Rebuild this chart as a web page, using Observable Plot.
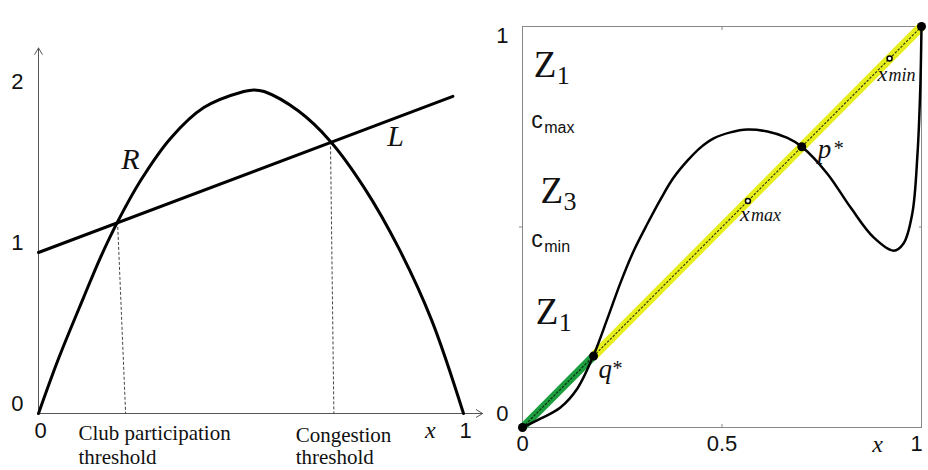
<!DOCTYPE html>
<html>
<head>
<meta charset="utf-8">
<script src="https://cdn.jsdelivr.net/npm/d3@7"></script>
<script src="https://cdn.jsdelivr.net/npm/@observablehq/plot@0.6"></script>
<style>
  body { margin: 0; background: #fff; }
  #wrap { display: flex; width: 928px; height: 470px; overflow: hidden; }
  #wrap svg { display: block; background: #fff; }
</style>
</head>
<body>
<div id="wrap"></div>
<script>
// ---- Left panel: benefit curve R(x) and cost line L(x) ----
const revX = [0, 0.047, 0.106, 0.146, 0.186, 0.241, 0.311, 0.389, 0.483, 0.507, 0.531, 0.611, 0.687, 0.767, 0.847, 0.925, 1];
const revY = [0, 0.34, 0.72, 0.97, 1.19, 1.45, 1.71, 1.90, 2.00, 2.01, 2.00, 1.88, 1.69, 1.40, 1.03, 0.58, 0];
const costX = [0, 0.975];
const costY = [1.0, 1.97];
// crossings of R and L, and where their drop lines meet the x axis
const crossX = [0.186, 0.687];
const crossY = [1.19, 1.69];
const dropX = [0.205, 0.695];
const leftTicksY = [0, 1, 2];
const leftTicksX = [0, 1];
const clubLabel = "Club participation\nthreshold";
const congestionLabel = "Congestion\nthreshold";

// ---- Right panel: map f(x) against the diagonal ----
const mapX = [0, 0.045, 0.095, 0.138, 0.178, 0.213, 0.246, 0.278, 0.313, 0.346, 0.378, 0.414, 0.446, 0.479, 0.521, 0.564, 0.614, 0.664, 0.70, 0.764, 0.822, 0.880, 0.930, 0.955, 0.977, 0.990, 0.997, 1];
const mapY = [0, 0.022, 0.050, 0.098, 0.180, 0.272, 0.362, 0.439, 0.508, 0.569, 0.622, 0.666, 0.698, 0.721, 0.736, 0.743, 0.738, 0.722, 0.70, 0.633, 0.549, 0.474, 0.441, 0.459, 0.534, 0.683, 0.848, 1];
const qStar = 0.178;
const pStar = 0.70;
const fixedPoints = [0, qStar, pStar, 1];
const xMax = 0.565;
const xMin = 0.92;
const cMax = 0.746;
const cMin = 0.449;
const zoneNames = ["Z", "Z", "Z"];
const zoneSubs = ["1", "3", "1"];
const zoneX = [0.028, 0.045, 0.033];
const zoneY = [0.873, 0.561, 0.259];
const rightTicksX = [0, 0.5, 1];

const SANS = '"Liberation Sans", Arial, sans-serif';
const SERIF = '"Liberation Serif", "Times New Roman", serif';
const INK = "#111";

const rev = revX.map((x, i) => ({x, y: revY[i]}));
const cost = costX.map((x, i) => ({x, y: costY[i]}));
const drops = crossX.map((x, i) => ({x1: x, y1: crossY[i], x2: dropX[i], y2: 0}));
const axesArrows = [
  {x1: 0, y1: 0, x2: 0, y2: 2.27},
  {x1: 0, y1: 0, x2: 1.045, y2: 0}
];

const left = Plot.plot({
  width: 490,
  height: 470,
  marginLeft: 38,
  marginRight: 27,
  marginTop: 91,
  marginBottom: 57,
  x: {domain: [0, 1], axis: null},
  y: {domain: [0, 2], axis: null},
  style: {fontFamily: SANS, color: INK, background: "#fff"},
  marks: [
    Plot.arrow(axesArrows, {x1: "x1", y1: "y1", x2: "x2", y2: "y2", stroke: "#555", strokeWidth: 1, headLength: 11, headAngle: 62}),
    Plot.link(drops, {x1: "x1", y1: "y1", x2: "x2", y2: "y2", stroke: "#444", strokeWidth: 1, strokeDasharray: "3,2"}),
    Plot.line(cost, {x: "x", y: "y", stroke: "#000", strokeWidth: 3}),
    Plot.line(rev, {x: "x", y: "y", curve: "catmull-rom", stroke: "#000", strokeWidth: 3}),
    // axis numbers
    Plot.text(leftTicksY, {x: 0, y: d => d, text: d => String(d), textAnchor: "end", lineAnchor: "bottom", dx: -15, dy: -3, fontSize: 22, fill: INK}),
    Plot.text(leftTicksX, {x: d => d, y: 0, text: d => String(d), textAnchor: "middle", lineAnchor: "bottom", dx: 2, dy: 24, fontSize: 22, fill: INK}),
    Plot.text(["x"], {x: 0.922, y: 0, text: d => d, textAnchor: "middle", lineAnchor: "bottom", dy: 24, fontSize: 24, fontStyle: "italic", fontFamily: SERIF, fill: INK}),
    // threshold names
    Plot.text([clubLabel], {x: 0.094, y: 0, text: d => d, textAnchor: "start", lineAnchor: "top", dy: 10, lineHeight: 1.12, fontSize: 21, fontFamily: SERIF, fill: INK}),
    Plot.text([congestionLabel], {x: 0.605, y: 0, text: d => d, textAnchor: "start", lineAnchor: "top", dy: 13, lineHeight: 1.04, fontSize: 21, fontFamily: SERIF, fill: INK}),
    // curve names
    Plot.text(["R", "L"], {x: [0.216, 0.84], y: [1.52, 1.66], text: d => d, textAnchor: "middle", lineAnchor: "bottom", fontSize: 30, fontStyle: "italic", fontFamily: SERIF, fill: INK})
  ]
});

const curve = mapX.map((x, i) => ({x, y: mapY[i]}));
const diagGreen = [{x1: 0, x2: qStar}];
const diagYellow = [{x1: qStar, x2: 1}];

const right = Plot.plot({
  width: 438,
  height: 470,
  marginLeft: 32,
  marginRight: 7,
  marginTop: 26,
  marginBottom: 43,
  x: {domain: [0, 1], axis: null},
  y: {domain: [0, 1], axis: null},
  style: {fontFamily: SANS, color: INK, background: "#fff"},
  marks: [
    Plot.frame({stroke: "#888", strokeWidth: 1}),
    Plot.axisX([0.5], {anchor: "bottom", tickSize: -3, tickFormat: () => "", stroke: "#888"}),
    Plot.axisX([0.5], {anchor: "top", tickSize: -3, tickFormat: () => "", stroke: "#888"}),
    Plot.axisY([0.5], {anchor: "left", tickSize: 3, tickFormat: () => "", stroke: "#888"}),
    Plot.axisY([0.5], {anchor: "right", tickSize: -3, tickFormat: () => "", stroke: "#888"}),
    Plot.link(diagGreen, {x1: "x1", y1: "x1", x2: "x2", y2: "x2", stroke: "#1c9e3f", strokeWidth: 8, strokeLinecap: "butt"}),
    Plot.link(diagYellow, {x1: "x1", y1: "x1", x2: "x2", y2: "x2", stroke: "#e6ef1c", strokeWidth: 9, strokeLinecap: "butt"}),
    Plot.link([0], {x1: 0, y1: 0, x2: 1, y2: 1, stroke: "#000", strokeWidth: 1.1, strokeDasharray: "2.5,1.5", strokeOpacity: 0.8}),
    Plot.line(curve, {x: "x", y: "y", curve: "catmull-rom", stroke: "#000", strokeWidth: 2.5}),
    Plot.dot(fixedPoints, {x: d => d, y: d => d, r: 4.5, fill: "#000"}),
    Plot.dot([xMax, xMin], {x: d => d, y: d => d, r: 2.5, fill: "#fff", stroke: "#000", strokeWidth: 1.5}),
    // axis numbers
    Plot.text(rightTicksX.slice(0, 2), {x: d => d, y: 0, text: d => String(d), textAnchor: "middle", lineAnchor: "bottom", dy: 23, fontSize: 22, fill: INK}),
    Plot.text(rightTicksX.slice(2), {x: d => d, y: 0, text: d => String(d), textAnchor: "middle", lineAnchor: "bottom", dx: -5, dy: 23, fontSize: 22, fill: INK}),
    Plot.text([1], {x: 0, y: d => d, text: d => String(d), textAnchor: "end", lineAnchor: "bottom", dx: -14, dy: 16, fontSize: 22, fill: INK}),
    Plot.text([0], {x: 0, y: d => d, text: d => String(d), textAnchor: "end", lineAnchor: "bottom", dx: -14, dy: -7, fontSize: 22, fill: INK}),
    Plot.text(["x"], {x: 0.89, y: 0, text: d => d, textAnchor: "middle", lineAnchor: "bottom", dy: 24, fontSize: 24, fontStyle: "italic", fontFamily: SERIF, fill: INK}),
    // zones and bounds along the left edge
    Plot.text(zoneNames, {x: zoneX, y: zoneY, text: d => d, textAnchor: "start", lineAnchor: "bottom", fontSize: 37, fontFamily: SERIF, fill: INK}),
    Plot.text(zoneSubs, {x: zoneX, y: zoneY, text: d => d, textAnchor: "start", lineAnchor: "bottom", dx: 23, dy: 7, fontSize: 26, fontFamily: SERIF, fill: INK}),
    Plot.text([cMax, cMin], {x: 0.022, y: d => d, text: () => "c", textAnchor: "start", lineAnchor: "bottom", fontSize: 23, fill: INK}),
    Plot.text([cMax, cMin], {x: 0.022, y: d => d, text: (d, i) => (i === 0 ? "max" : "min"), textAnchor: "start", lineAnchor: "bottom", dx: 13, dy: 5, fontSize: 16, fill: INK}),
    // fixed point names
    Plot.text([qStar], {x: d => d, y: d => d, text: () => "q", textAnchor: "start", lineAnchor: "bottom", dx: 5, dy: 22, fontSize: 27, fontStyle: "italic", fontFamily: SERIF, fill: INK}),
    Plot.text([qStar], {x: d => d, y: d => d, text: () => "*", textAnchor: "start", lineAnchor: "bottom", dx: 19, dy: 19, fontSize: 20, fontFamily: SERIF, fill: INK}),
    Plot.text([pStar], {x: d => d, y: d => d, text: () => "p", textAnchor: "start", lineAnchor: "bottom", dx: 16, dy: 11, fontSize: 27, fontStyle: "italic", fontFamily: SERIF, fill: INK}),
    Plot.text([pStar], {x: d => d, y: d => d, text: () => "*", textAnchor: "start", lineAnchor: "bottom", dx: 32, dy: 8, fontSize: 20, fontFamily: SERIF, fill: INK}),
    // critical points on the diagonal
    Plot.text([xMax], {x: d => d, y: d => d, text: () => "x", textAnchor: "start", lineAnchor: "bottom", dx: -8, dy: 20, fontSize: 22, fontStyle: "italic", fontFamily: SERIF, fill: INK}),
    Plot.text([xMax], {x: d => d, y: d => d, text: () => "max", textAnchor: "start", lineAnchor: "bottom", dx: 3, dy: 20, fontSize: 18, fontStyle: "italic", fontFamily: SERIF, fill: INK}),
    Plot.text([xMin], {x: d => d, y: d => d, text: () => "x", textAnchor: "start", lineAnchor: "bottom", dx: -12, dy: 22, fontSize: 22, fontStyle: "italic", fontFamily: SERIF, fill: INK}),
    Plot.text([xMin], {x: d => d, y: d => d, text: () => "min", textAnchor: "start", lineAnchor: "bottom", dx: -1, dy: 22, fontSize: 18, fontStyle: "italic", fontFamily: SERIF, fill: INK})
  ]
});

const wrap = document.getElementById("wrap");
wrap.append(left, right);
</script>
</body>
</html>
